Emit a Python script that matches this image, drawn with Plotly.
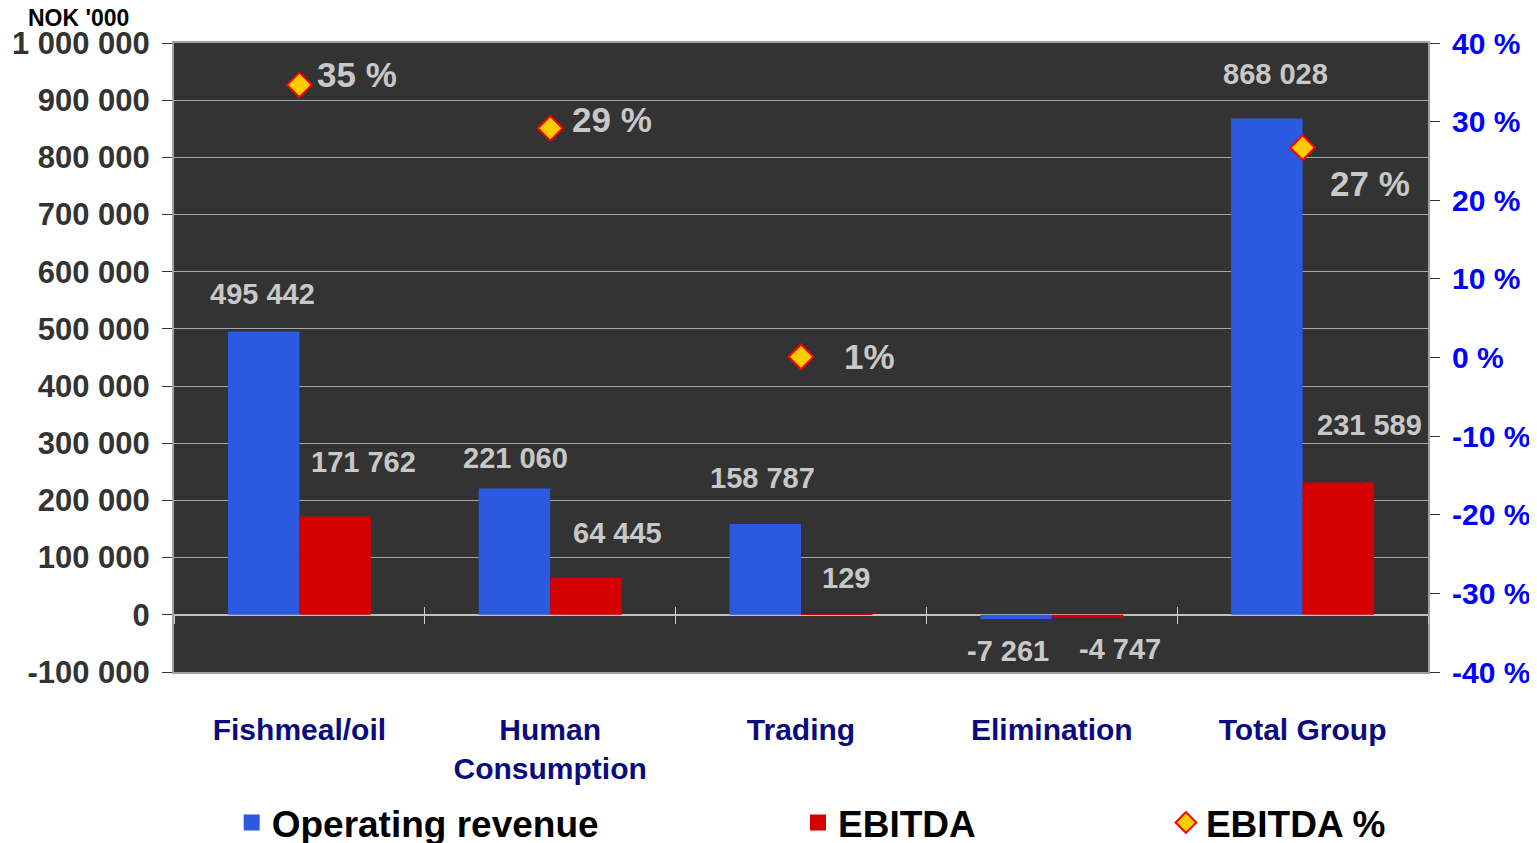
import plotly.graph_objects as go

categories = ["Fishmeal/oil", "Human<br>Consumption", "Trading", "Elimination", "Total Group"]
revenue = [495442, 221060, 158787, -7261, 868028]
ebitda = [171762, 64445, 129, -4747, 231589]
ebitda_pct = [34.67, 29.15, 0.08, None, 26.68]
pct_labels = ["35 %", "29 %", "1%", None, "27 %"]
left_ticks = [-100000, 0, 100000, 200000, 300000, 400000, 500000, 600000, 700000, 800000, 900000, 1000000]
right_ticks = [-40, -30, -20, -10, 0, 10, 20, 30, 40]

FONT = "Arial, Liberation Sans, sans-serif"
LABEL_GREY = "#c8c8c8"
BLUE = "#2B5AE0"
RED = "#D40000"

def fmt(v):
    return f"{v:,}".replace(",", " ")

fig = go.Figure()
fig.add_trace(go.Bar(x=categories, y=revenue, name="Operating revenue",
                     marker=dict(color=BLUE, line=dict(width=0)),
                     showlegend=False, hoverinfo="skip"))
fig.add_trace(go.Bar(x=categories, y=ebitda, name="EBITDA",
                     marker=dict(color=RED, line=dict(width=0)),
                     showlegend=False, hoverinfo="skip"))
fig.add_trace(go.Scatter(x=categories, y=ebitda_pct, name="EBITDA %", yaxis="y2",
                         mode="markers",
                         marker=dict(symbol="diamond", size=19, color="#FFCC00",
                                     line=dict(color="#FF0000", width=2)),
                         legend="legend3", hoverinfo="skip"))
# legend entries with larger square symbols for the bar series
fig.add_trace(go.Scatter(x=[None], y=[None], name="Operating revenue", mode="markers",
                         marker=dict(symbol="square", size=16, color=BLUE),
                         legend="legend", hoverinfo="skip"))
fig.add_trace(go.Scatter(x=[None], y=[None], name="EBITDA", mode="markers",
                         marker=dict(symbol="square", size=16, color=RED),
                         legend="legend2", hoverinfo="skip"))
# invisible helper traces for the boundary tick axes on the zero line
for ax in ["x2", "x3"]:
    fig.add_trace(go.Scatter(x=categories, y=revenue, xaxis=ax, mode="markers",
                             marker=dict(opacity=0), showlegend=False, hoverinfo="skip"))

# label offsets (px) relative to category centre / value position
rev_off = [(-37, 38), (-35, 30), (-39, 46), (-44, -32), (-27, 44)]
ebd_off = [(64, 55), (67, 45), (45, 37), (68, -31), (67, 57)]
pct_off = [(58, 10), (62, 9), (68, 0), None, (67, -36)]

ann = []
for c, v, (dx, dy) in zip(categories, revenue, rev_off):
    ann.append(dict(x=c, y=v, xref="x", yref="y", text=fmt(v),
                    showarrow=False, xshift=dx, yshift=dy, xanchor="center", yanchor="middle",
                    font=dict(family=FONT, size=29, color=LABEL_GREY, weight="bold")))
for c, v, (dx, dy) in zip(categories, ebitda, ebd_off):
    ann.append(dict(x=c, y=v, xref="x", yref="y", text=fmt(v),
                    showarrow=False, xshift=dx, yshift=dy, xanchor="center", yanchor="middle",
                    font=dict(family=FONT, size=29, color=LABEL_GREY, weight="bold")))
for c, v, t, off in zip(categories, ebitda_pct, pct_labels, pct_off):
    if v is None:
        continue
    ann.append(dict(x=c, y=v, xref="x", yref="y2", text=t,
                    showarrow=False, xshift=off[0], yshift=off[1], xanchor="center", yanchor="middle",
                    font=dict(family=FONT, size=35, color=LABEL_GREY, weight="bold")))
ann.append(dict(x=-0.0758, y=1.04, xref="paper", yref="paper", text="NOK '000",
                showarrow=False, xanchor="center", yanchor="middle",
                font=dict(family=FONT, size=23, color="#000000", weight="bold")))

legend_common = dict(orientation="h", yanchor="middle", xanchor="left", y=-0.24,
                     bgcolor="rgba(0,0,0,0)", itemsizing="trace",
                     font=dict(family=FONT, size=37, color="#000000", weight="bold"))

fig.update_layout(
    width=1537, height=843,
    margin=dict(l=166, r=117, t=35, b=179, autoexpand=False),
    paper_bgcolor="#ffffff", plot_bgcolor="#333333",
    barmode="group", bargap=0.43, bargroupgap=0,
    annotations=ann,
    legend=dict(x=0.046, **legend_common),
    legend2=dict(x=0.4976, **legend_common),
    legend3=dict(x=0.791, **legend_common),
    xaxis=dict(type="category", range=[-0.5, 4.5], showgrid=False,
               showline=True, linecolor="#a0a0a0", linewidth=2, mirror=True,
               ticks="", ticklabelstandoff=30,
               tickfont=dict(family=FONT, size=30, color="#0b0b80", weight="bold")),
    xaxis2=dict(type="category", overlaying="x", anchor="free", position=1/11,
                range=[-0.5, 4.5], showgrid=False, showline=False, showticklabels=False,
                ticks="outside", ticklen=8, tickwidth=1, tickcolor="#cccccc", tickson="boundaries"),
    xaxis3=dict(type="category", overlaying="x", anchor="free", position=1/11,
                range=[-0.5, 4.5], showgrid=False, showline=False, showticklabels=False,
                ticks="inside", ticklen=8, tickwidth=1, tickcolor="#cccccc", tickson="boundaries"),
    yaxis=dict(range=[-100000, 1000000], tickvals=left_ticks,
               ticktext=[fmt(v) for v in left_ticks],
               showgrid=True, gridcolor="#a6a6a6", gridwidth=1,
               zeroline=True, zerolinecolor="#c0c0c0", zerolinewidth=2,
               showline=True, linecolor="#a0a0a0", linewidth=2,
               ticks="outside", ticklen=10, tickcolor="#333333", ticklabelstandoff=6,
               tickfont=dict(family=FONT, size=31, color="#333333", weight="bold")),
    yaxis2=dict(overlaying="y", side="right", range=[-40, 40], tickvals=right_ticks,
                ticktext=[f"{v} %" for v in right_ticks],
                showgrid=False, zeroline=False,
                showline=True, linecolor="#a0a0a0", linewidth=2,
                ticks="outside", ticklen=10, tickcolor="#333333", ticklabelstandoff=6,
                tickfont=dict(family=FONT, size=30, color="#0000ff", weight="bold")),
)

fig.write_html("out.html")
